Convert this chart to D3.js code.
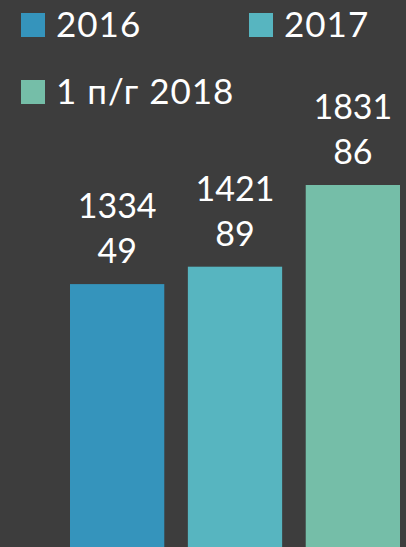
<!DOCTYPE html>
<html>
<head>
<meta charset="utf-8">
<script src="https://cdn.jsdelivr.net/npm/d3@7"></script>
<style>
  html, body { margin: 0; padding: 0; background: #3d3d3d; }
  svg { display: block; }
</style>
</head>
<body>
<svg id="chart" width="406" height="547"></svg>
<script>
const categories = ["2016", "2017", "1 п/г 2018"];
const values = [133449, 142189, 183186];
const colors = ["#3594bc", "#57b5c0", "#75bea8"];

const svg = d3.select("#chart");
const W = 406, H = 547;

svg.append("rect").attr("width", W).attr("height", H).attr("fill", "#3d3d3d");

const x = d3.scaleBand().domain(categories).range([70, 400]).paddingInner(0.2).paddingOuter(0);
const y = d3.scaleLinear().domain([0, d3.max(values)]).range([550, 185]);
const color = d3.scaleOrdinal().domain(categories).range(colors);

const data = categories.map((c, i) => ({ cat: c, value: values[i] }));

svg.selectAll(".bar")
    .data(data)
    .join("rect")
    .attr("class", "bar")
    .attr("x", d => x(d.cat))
    .attr("y", d => y(d.value))
    .attr("width", x.bandwidth())
    .attr("height", d => y(0) - y(d.value))
    .attr("fill", d => color(d.cat));

// value labels wrap after four digits, like the original
const labels = svg.selectAll(".label")
    .data(data)
    .join("text")
    .attr("class", "label")
    .attr("text-anchor", "middle")
    .attr("fill", "#ffffff")
    .style("font-family", "Lato, 'Open Sans', sans-serif")
    .style("font-size", "34px");

labels.append("tspan")
    .attr("x", d => x(d.cat) + x.bandwidth() / 2)
    .attr("y", d => y(d.value) - 66)
    .text(d => String(d.value).slice(0, 4));
labels.append("tspan")
    .attr("x", d => x(d.cat) + x.bandwidth() / 2)
    .attr("y", d => y(d.value) - 21)
    .text(d => String(d.value).slice(4));

// legend
const legendPos = [[21, 13], [249, 13], [21, 80]];
const legend = svg.selectAll(".legend")
    .data(categories)
    .join("g")
    .attr("class", "legend")
    .attr("transform", (d, i) => `translate(${legendPos[i][0]},${legendPos[i][1]})`);

legend.append("rect")
    .attr("width", 24)
    .attr("height", 24)
    .attr("fill", d => color(d));

legend.append("text")
    .attr("x", 35)
    .attr("y", 24)
    .attr("fill", "#ffffff")
    .style("font-family", "Lato, 'Open Sans', sans-serif")
    .style("font-size", "35px")
    .style("letter-spacing", "1px")
    .text(d => d);
</script>
</body>
</html>
